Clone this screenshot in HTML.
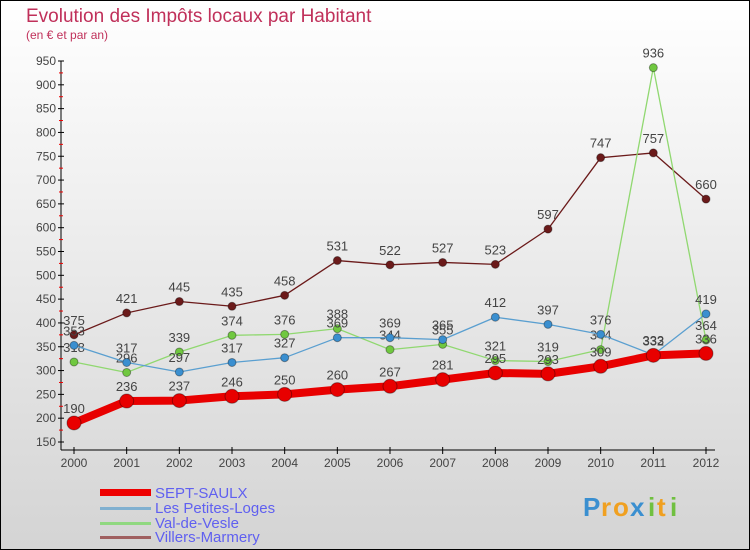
<!DOCTYPE html>
<html><head><meta charset="utf-8"><style>
body{margin:0;width:750px;height:550px;overflow:hidden}
svg{display:block;font-family:"Liberation Sans",sans-serif}
</style></head><body>
<svg id="c" width="750" height="550" viewBox="0 0 750 550">
<defs><linearGradient id="bg" x1="0" y1="0" x2="0" y2="1"><stop offset="0" stop-color="#ffffff"/><stop offset="1" stop-color="#d4d4d4"/></linearGradient></defs>
<rect x="0.5" y="0.5" width="749" height="549" fill="url(#bg)" stroke="#000"/>
<text x="26" y="22" font-size="19" fill="#c0305a">Evolution des Impôts locaux par Habitant</text>
<text x="26" y="39" font-size="12" fill="#c0305a">(en € et par an)</text>
<g id="axes"></g><g id="series"></g>
<g>
<rect x="100" y="489" width="51" height="7" fill="#e00"/>
<text x="155" y="498" font-size="15" fill="#6060f0">SEPT-SAULX</text>
<rect x="100" y="507" width="51" height="3" fill="#80b0d0"/>
<text x="155" y="513" font-size="15" fill="#6060f0">Les Petites-Loges</text>
<rect x="100" y="522" width="51" height="3" fill="#90d880"/>
<text x="155" y="528" font-size="15" fill="#6060f0">Val-de-Vesle</text>
<rect x="100" y="536" width="51" height="3" fill="#a06060"/>
<text x="155" y="542" font-size="15" fill="#6060f0">Villers-Marmery</text>
</g>
<g font-size="26" font-weight="bold">
<text x="583" y="516" fill="#3a8fd0">P</text><text x="601" y="516" fill="#f0a020">r</text><text x="613" y="516" fill="#f0a020">o</text><text x="630" y="516" fill="#3a8fd0">x</text><text x="648" y="516" fill="#70c040">i</text><text x="657" y="516" fill="#f0a020">t</text><text x="670" y="516" fill="#70c040">i</text>
</g>
</svg>
<script>
const years=[2000,2001,2002,2003,2004,2005,2006,2007,2008,2009,2010,2011,2012];
const septSaulx=[190,236,237,246,250,260,267,281,295,293,309,332,336];
const petitesLoges=[353,317,297,317,327,369,369,365,412,397,376,333,419];
const valDeVesle=[318,296,339,374,376,388,344,355,321,319,344,936,364];
const villersMarmery=[375,421,445,435,458,531,522,527,523,597,747,757,660];
const yTicks=[150,200,250,300,350,400,450,500,550,600,650,700,750,800,850,900,950];
const NS="http://www.w3.org/2000/svg";
const xS=i=>74+i*(706-74)/(years.length-1);
const yS=v=>61+(950-v)*(381/800);
function mk(t,a,p){const e=document.createElementNS(NS,t);for(const k in a)e.setAttribute(k,a[k]);p.appendChild(e);return e;}
const ax=document.getElementById('axes');
let yl=mk('line',{x1:61,y1:yS(950),x2:61,y2:450,stroke:'#000'},ax);


let xl=mk('line',{x1:61,y1:450,x2:715,y2:450,stroke:'#000'},ax);


yTicks.forEach(v=>{
 const y=yS(v);
 mk('line',{x1:58,y1:y,x2:64,y2:y,stroke:'#000'},ax);
 if(v<950){const m=mk('line',{x1:59,y1:yS(v+25),x2:63,y2:yS(v+25),stroke:'#e00'},ax);}
 const t=mk('text',{x:56,y:y+4,'font-size':12,'text-anchor':'end',fill:'#444'},ax);
 t.textContent=v;
 
 
});
years.forEach((yr,i)=>{
 const x=xS(i);
 mk('line',{x1:x,y1:447,x2:x,y2:454,stroke:'#000'},ax);
 const t=mk('text',{x:x,y:467,'font-size':12,'text-anchor':'middle',fill:'#444'},ax);
 t.textContent=yr;
 
 
});
const sg=document.getElementById('series');
function draw(vals,name,color,dot,lw,r){
 const g=mk('g',{},sg);
 
 
 const pl=mk('polyline',{points:vals.map((v,i)=>xS(i)+','+yS(v)).join(' '),fill:'none',stroke:color,'stroke-width':lw,'stroke-linejoin':'round'},g);
 
 
 vals.forEach((v,i)=>{
  const c=mk('circle',{cx:xS(i),cy:yS(v),r:r,fill:dot,stroke:'rgba(0,0,0,0.35)','stroke-width':1},g);
  
  
  const t=mk('text',{x:xS(i),y:yS(v)-10,'font-size':13,'text-anchor':'middle',fill:'#444'},g);
  t.textContent=v;
  
  
 });
}
draw(villersMarmery,'villers-marmery','#6b1a1a','#6b1a1a',1.3,4);
draw(valDeVesle,'val-de-vesle','#90d870','#70c840',1.3,4);
draw(petitesLoges,'les-petites-loges','#5a9fd0','#3a8fd0',1.3,4);
draw(septSaulx,'sept-saulx','#e80000','#e80000',8,7);
</script>
</body></html>
